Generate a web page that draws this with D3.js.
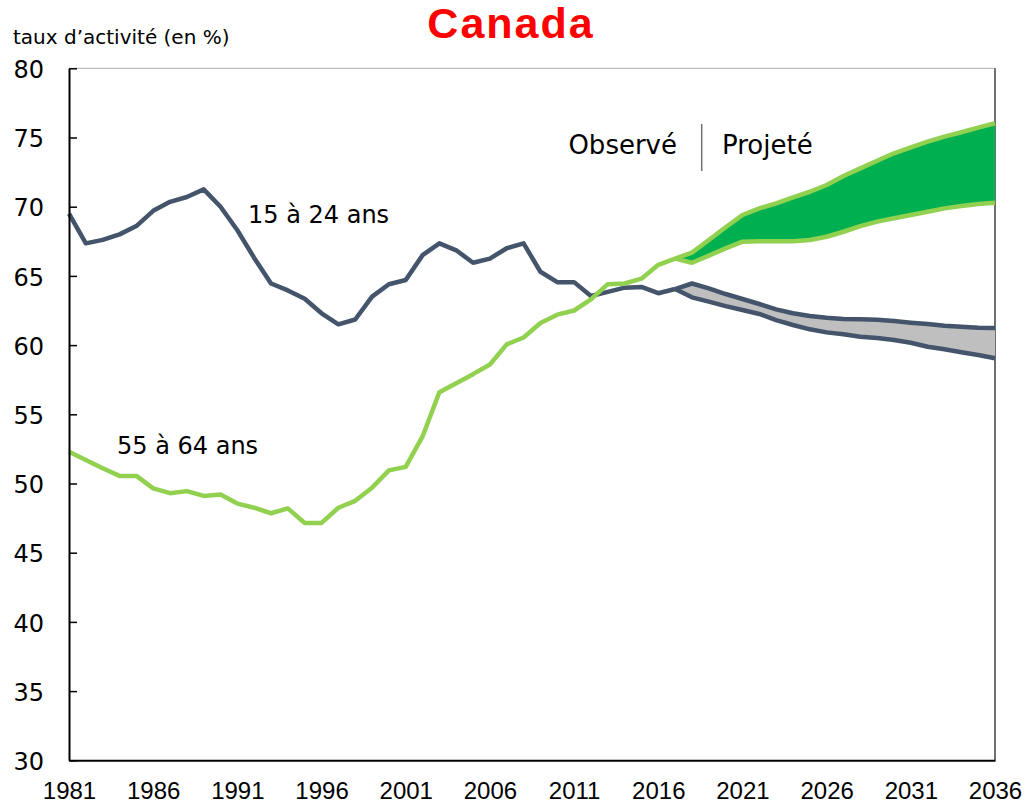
<!DOCTYPE html>
<html>
<head>
<meta charset="utf-8">
<script src="https://cdn.jsdelivr.net/npm/d3@7"></script>
<style>
  body { margin: 0; background: #fff; }
  text { font-family: "DejaVu Sans", sans-serif; }
</style>
</head>
<body>
<script>
// taux d'activité, Canada : observé 1981-2017, projeté 2017-2036

// observed years
var obsYears = [1981, 1982, 1983, 1984, 1985, 1986, 1987, 1988, 1989, 1990,
                1991, 1992, 1993, 1994, 1995, 1996, 1997, 1998, 1999, 2000,
                2001, 2002, 2003, 2004, 2005, 2006, 2007, 2008, 2009, 2010,
                2011, 2012, 2013, 2014, 2015, 2016, 2017];

// 15 à 24 ans, observed
var youthObs = [69.5, 67.35, 67.6, 68.0, 68.6, 69.7, 70.35, 70.7, 71.25, 70.0,
                68.3, 66.3, 64.45, 63.95, 63.35, 62.3, 61.5, 61.85, 63.5, 64.4,
                64.7, 66.5, 67.35, 66.85, 65.95, 66.25, 67.0, 67.35, 65.3, 64.55,
                64.55, 63.55, 63.85, 64.15, 64.2, 63.75, 64.05];

// 55 à 64 ans, observed
var olderObs = [52.3, 51.7, 51.1, 50.55, 50.55, 49.65, 49.3, 49.45, 49.1, 49.2,
                48.55, 48.25, 47.85, 48.2, 47.15, 47.15, 48.25, 48.75, 49.7, 50.95,
                51.2, 53.4, 56.6, 57.25, 57.9, 58.6, 60.05, 60.55, 61.6, 62.2,
                62.5, 63.3, 64.4, 64.45, 64.8, 65.8, 66.25];

// projection years
var projYears = [2017, 2018, 2019, 2020, 2021, 2022, 2023, 2024, 2025, 2026,
                 2027, 2028, 2029, 2030, 2031, 2032, 2033, 2034, 2035, 2036];

// projections, high and low scenarios
var youthHigh = [64.05, 64.45, 64.1, 63.69, 63.33, 62.97, 62.58, 62.3, 62.1, 61.98,
                 61.89, 61.86, 61.84, 61.74, 61.62, 61.52, 61.4, 61.33, 61.26, 61.24];
var youthLow  = [64.05, 63.45, 63.14, 62.82, 62.54, 62.25, 61.81, 61.45, 61.14, 60.92,
                 60.78, 60.61, 60.51, 60.37, 60.17, 59.88, 59.7, 59.48, 59.28, 59.05];
var olderHigh = [66.25, 66.68, 67.59, 68.51, 69.4, 69.88, 70.24, 70.68, 71.08, 71.57,
                 72.22, 72.77, 73.32, 73.86, 74.29, 74.7, 75.06, 75.38, 75.71, 76.03];
var olderLow  = [66.25, 65.95, 66.46, 66.99, 67.47, 67.5, 67.5, 67.5, 67.6, 67.83,
                 68.19, 68.6, 68.92, 69.16, 69.4, 69.64, 69.88, 70.05, 70.2, 70.28];

// axis ticks
var xTicks = [1981, 1986, 1991, 1996, 2001, 2006, 2011, 2016, 2021, 2026, 2031, 2036];
var yTicks = [30, 35, 40, 45, 50, 55, 60, 65, 70, 75, 80];

var darkColor = "#44546A";
var lightGreen = "#92D050";

var svg = d3.select("body")
            .append("svg")
            .attr("width", 1027)
            .attr("height", 807);

svg.append("rect")
   .attr("width", 1027)
   .attr("height", 807)
   .attr("fill", "#fff");

var xScale = d3.scaleLinear()
      .domain([1981, 2036])
      .range([69, 995]);

var yScale = d3.scaleLinear()
      .domain([30, 80])
      .range([760.3, 68.3]);

// top border and right border
svg.append("line")
   .attr("x1", xScale(1981)).attr("x2", xScale(2036))
   .attr("y1", yScale(80)).attr("y2", yScale(80))
   .attr("stroke", "#BFBFBF")
   .attr("stroke-width", 1.2);

svg.append("line")
   .attr("x1", xScale(2036)).attr("x2", xScale(2036))
   .attr("y1", yScale(80)).attr("y2", yScale(30))
   .attr("stroke", "#404040")
   .attr("stroke-width", 1.5);

// combine the projection arrays into rows for the areas
var projRows = projYears.map(function(y, i) {
  return { year: y, yh: youthHigh[i], yl: youthLow[i], oh: olderHigh[i], ol: olderLow[i] };
});

svg.append("path")
   .datum(projRows)
   .attr("fill", "#BFBFBF")
   .attr("d", d3.area()
      .x(function(d) { return xScale(d.year); })
      .y0(function(d) { return yScale(d.yl); })
      .y1(function(d) { return yScale(d.yh); }));

svg.append("path")
   .datum(projRows)
   .attr("fill", "#00B050")
   .attr("d", d3.area()
      .x(function(d) { return xScale(d.year); })
      .y0(function(d) { return yScale(d.ol); })
      .y1(function(d) { return yScale(d.oh); }));

// draws one series as a line
function drawLine(years, values, color) {
  var line = d3.line()
      .x(function(d, i) { return xScale(years[i]); })
      .y(function(d) { return yScale(d); });

  svg.append("path")
     .datum(values)
     .attr("fill", "none")
     .attr("stroke", color)
     .attr("stroke-width", 4.5)
     .attr("stroke-linejoin", "round")
     .attr("d", line);
}

drawLine(obsYears, youthObs, darkColor);
drawLine(projYears, youthHigh, darkColor);
drawLine(projYears, youthLow, darkColor);
drawLine(obsYears, olderObs, lightGreen);
drawLine(projYears, olderHigh, lightGreen);
drawLine(projYears, olderLow, lightGreen);

// y axis, ticks pointing inward
var yAxis = svg.append("g")
   .attr("transform", "translate(" + xScale(1981) + ",0)")
   .call(d3.axisLeft(yScale)
      .tickValues(yTicks)
      .tickSizeInner(-8)
      .tickSizeOuter(0)
      .tickPadding(25));

yAxis.select(".domain").attr("stroke", "#000").attr("stroke-width", 2);
yAxis.selectAll(".tick line").attr("stroke", "#000").attr("stroke-width", 1.5);
yAxis.selectAll(".tick text")
     .attr("dy", "0.38em")
     .style("font-family", "DejaVu Sans")
     .style("font-size", "24px")
     .attr("fill", "#000");

// x axis, labels only
var xAxis = svg.append("g")
   .attr("transform", "translate(0," + yScale(30) + ")")
   .call(d3.axisBottom(xScale)
      .tickValues(xTicks)
      .tickFormat(d3.format("d"))
      .tickSize(0)
      .tickPadding(22));

xAxis.select(".domain").attr("stroke", "#000").attr("stroke-width", 2);
xAxis.selectAll(".tick text")
     .style("font-family", "Liberation Sans")
     .style("font-size", "24px")
     .attr("fill", "#000");

// title
svg.append("text")
   .attr("x", 511)
   .attr("y", 38.3)
   .style("text-anchor", "middle")
   .style("font-family", "Liberation Sans")
   .style("font-weight", "bold")
   .style("font-size", "43px")
   .style("letter-spacing", "2px")
   .attr("fill", "#FF0000")
   .text("Canada");

// y axis label
svg.append("text")
   .attr("x", 13)
   .attr("y", 44)
   .style("font-size", "20px")
   .attr("fill", "#000")
   .text("taux d’activité (en %)");

// series labels
svg.append("text")
   .attr("x", 248)
   .attr("y", 223)
   .style("font-size", "24px")
   .attr("fill", "#000")
   .text("15 à 24 ans");

svg.append("text")
   .attr("x", 117)
   .attr("y", 454)
   .style("font-size", "24px")
   .attr("fill", "#000")
   .text("55 à 64 ans");

// observed / projected marker
svg.append("text")
   .attr("x", 677)
   .attr("y", 154.3)
   .style("text-anchor", "end")
   .style("font-size", "26px")
   .attr("fill", "#000")
   .text("Observé");

svg.append("line")
   .attr("x1", 701.7).attr("x2", 701.7)
   .attr("y1", 124).attr("y2", 171)
   .attr("stroke", "#767171")
   .attr("stroke-width", 1.5);

svg.append("text")
   .attr("x", 722)
   .attr("y", 154.3)
   .style("font-size", "26px")
   .attr("fill", "#000")
   .text("Projeté");
</script>
</body>
</html>
